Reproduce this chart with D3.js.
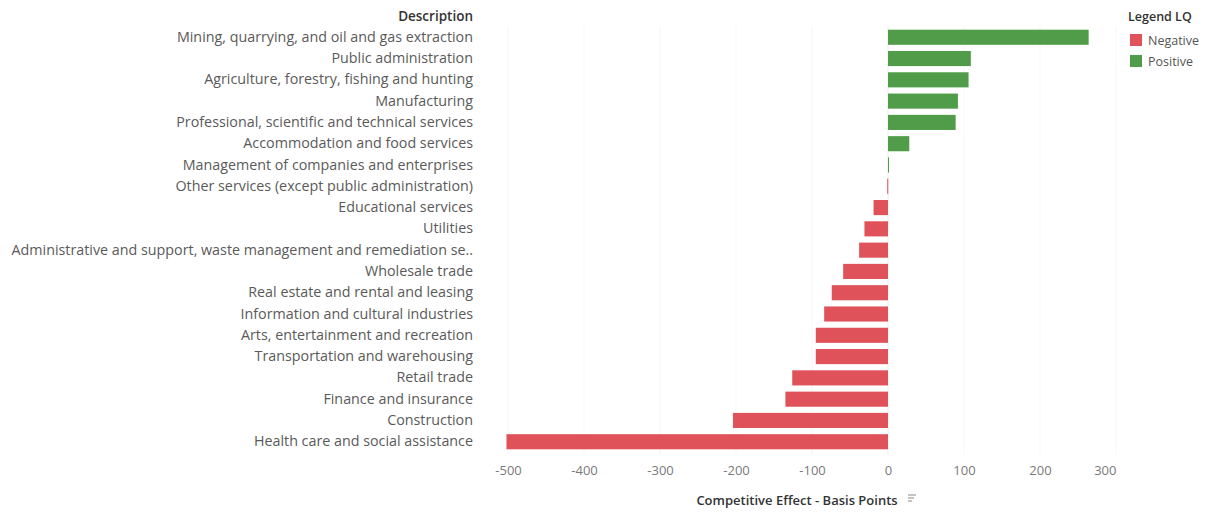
<!DOCTYPE html>
<html><head><meta charset="utf-8">
<script src="https://cdn.jsdelivr.net/npm/d3@7"></script>
<style>body{margin:0;background:#fff;} svg{display:block;font-family:"Open Sans",sans-serif;}</style>
</head><body><svg id="c" width="1217" height="514"></svg>
<script>
const categories = [
"Mining, quarrying, and oil and gas extraction",
"Public administration",
"Agriculture, forestry, fishing and hunting",
"Manufacturing",
"Professional, scientific and technical services",
"Accommodation and food services",
"Management of companies and enterprises",
"Other services (except public administration)",
"Educational services",
"Utilities",
"Administrative and support, waste management and remediation se..",
"Wholesale trade",
"Real estate and rental and leasing",
"Information and cultural industries",
"Arts, entertainment and recreation",
"Transportation and warehousing",
"Retail trade",
"Finance and insurance",
"Construction",
"Health care and social assistance"];
const values = [264,109,106,92,89,28,1,-1,-19,-31,-38,-59,-74,-84,-95,-95,-126,-135,-204,-502];
const tickValues = [-500,-400,-300,-200,-100,0,100,200,300];
const legendLabels = ["Negative","Positive"];
const colors = {Negative:"#e0525a", Positive:"#509c48"};

const svg = d3.select("#c");
const x = d3.scaleLinear().domain([-500,300]).range([508,1116]);
const y = d3.scaleBand().domain(categories).range([26.5,452.5]).paddingInner(0.29).paddingOuter(0.15);

// faint gridlines
svg.append("g").selectAll("line").data(tickValues).join("line")
  .attr("x1",d=>x(d)).attr("x2",d=>x(d)).attr("y1",26).attr("y2",455)
  .attr("stroke",d=>d===0?"#ececec":"#f7f7f7").attr("stroke-width",1);

// bars
svg.append("g").selectAll("rect").data(categories).join("rect")
  .attr("x",(d,i)=>Math.min(x(0),x(values[i])))
  .attr("width",(d,i)=>Math.max(1,Math.abs(x(values[i])-x(0))))
  .attr("y",d=>y(d)).attr("height",y.bandwidth())
  .attr("fill",(d,i)=>values[i]>=0?colors.Positive:colors.Negative);

// category labels
const ax = d3.axisLeft(y).tickSize(0).tickPadding(0);
const gy = svg.append("g").attr("transform","translate(473,0)").call(ax);
gy.select(".domain").remove();
gy.selectAll("text").attr("fill","#5a5a5a").style("font-size","14.3px").style("font-family","'Open Sans',sans-serif");

svg.append("text").attr("x",473).attr("y",21).attr("text-anchor","end")
  .attr("fill","#333").style("font-size","13.5px").style("font-weight","600").text("Description");

// x axis
const gx = svg.append("g").attr("transform","translate(0,466)")
  .call(d3.axisBottom(x).tickValues(tickValues).tickSize(0).tickPadding(0).tickFormat(d=>String(d)));
gx.select(".domain").remove();
gx.selectAll("text").attr("fill","#7a7a7a").attr("dy","0.71em").style("font-size","13px").style("font-family","'Open Sans',sans-serif")
  .attr("text-anchor",d=>d===300?"end":"middle");

svg.append("text").attr("x",797).attr("y",505).attr("text-anchor","middle")
  .attr("fill","#333").style("font-size","13px").style("font-weight","600").text("Competitive Effect - Basis Points");
// sort icon
const ic = svg.append("g").attr("transform","translate(908,495)").attr("stroke","#888").attr("stroke-width",1);
[[0,8],[1,6],[2,4]].forEach((p,i)=>ic.append("line").attr("x1",0).attr("x2",p[1]).attr("y1",i*3).attr("y2",i*3));

// legend
svg.append("text").attr("x",1128).attr("y",21).attr("fill","#333")
  .style("font-size","12.5px").style("font-weight","600").text("Legend LQ");
const lg = svg.append("g").selectAll("g").data(legendLabels).join("g")
  .attr("transform",(d,i)=>`translate(1130,${34+i*21})`);
lg.append("rect").attr("width",12).attr("height",12).attr("fill",d=>colors[d]);
lg.append("text").attr("x",18).attr("y",11).attr("fill","#555").style("font-size","12.5px").text(d=>d);
</script></body></html>
